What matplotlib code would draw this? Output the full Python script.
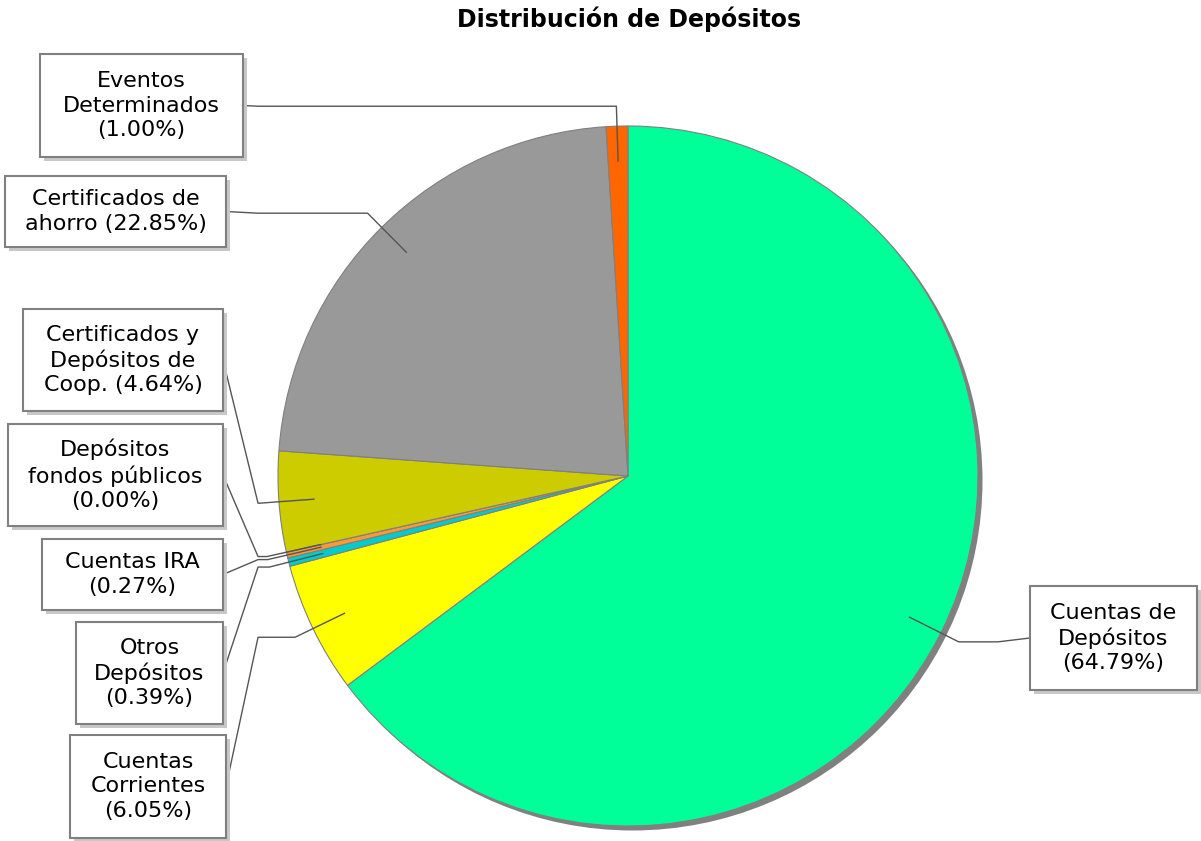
import numpy as np
import matplotlib
matplotlib.use("Agg")
import matplotlib.pyplot as plt
from matplotlib.patches import Rectangle, Circle
from matplotlib.transforms import ScaledTranslation

# data, in drawing order (clockwise from 12 o'clock)
names = ["Cuentas de\nDepósitos", "Cuentas\nCorrientes", "Otros\nDepósitos",
         "Cuentas IRA", "Depósitos\nfondos públicos",
         "Certificados y\nDepósitos de\nCoop.", "Certificados de\nahorro",
         "Eventos\nDeterminados"]
pct_sep = ["\n", "\n", "\n", "\n", "\n", " ", " ", "\n"]
values = [64.79, 6.05, 0.39, 0.27, 0.00, 4.64, 22.85, 1.00]
colors = ["#00FF99", "#FFFF00", "#00CCCC", "#FF9933", "#996633",
          "#CCCC00", "#999999", "#FF6600"]

# label boxes in pixels, (left, top, right, bottom) measured from top-left
label_boxes = [(1030, 586, 1197, 690), (70, 735, 226, 838), (76, 622, 223, 724),
               (42, 539, 223, 610), (8, 424, 223, 526), (23, 309, 223, 411),
               (5, 176, 226, 247), (40, 54, 243, 157)]

W, H = 1201, 841
cx, cy, R = 628, 476, 350


def py(y):
    return H - y


fig = plt.figure(figsize=(W / 100, H / 100), dpi=100)
ax = fig.add_axes([0, 0, 1, 1])

# pie shadow
shadow = Circle((cx, py(cy)), R, color="#808080", lw=0,
                transform=ax.transData + ScaledTranslation(4.5 / 100, -4.5 / 100, fig.dpi_scale_trans))
ax.add_patch(shadow)

wedges, _ = ax.pie(values, colors=colors, startangle=90, counterclock=False,
                   center=(cx, py(cy)), radius=R,
                   wedgeprops=dict(edgecolor="#808080", linewidth=0.8))

ax.set_xlim(0, W)
ax.set_ylim(0, H)
ax.set_aspect("equal")
ax.axis("off")

link_r = 0.9 * R
elbow_r = 1.057 * R
for w, name, sep, v, box in zip(wedges, names, pct_sep, values, label_boxes):
    mid = np.deg2rad((w.theta1 + w.theta2) / 2)
    lx, ly = cx + link_r * np.cos(mid), py(cy) + link_r * np.sin(mid)
    ex, ey = cx + elbow_r * np.cos(mid), py(cy) + elbow_r * np.sin(mid)
    left, top, right, bottom = box
    right_side = np.cos(mid) > 0
    ax_x = cx + elbow_r if right_side else cx - elbow_r
    tx = left if right_side else right
    ty = py((top + bottom) / 2)
    ax.plot([lx, ex, ax_x, tx], [ly, ey, ey, ty], color="#555555", lw=1, zorder=3)

    # box with shadow
    ax.add_patch(Rectangle((left + 4, py(bottom) - 4), right - left, bottom - top,
                           facecolor="#C8C8C8", edgecolor="none", zorder=4))
    ax.add_patch(Rectangle((left, py(bottom)), right - left, bottom - top,
                           facecolor="white", edgecolor="#808080", lw=1.5, zorder=5))
    ax.text((left + right) / 2, ty, f"{name}{sep}({v:.2f}%)", ha="center", va="center",
            fontsize=16, family="DejaVu Sans", linespacing=1.28, zorder=6)

ax.text(629, py(19), "Distribución de Depósitos", ha="center", va="center",
        fontsize=17, fontweight="bold", family="DejaVu Sans")

fig.savefig("out.png", dpi=100, facecolor="white")
